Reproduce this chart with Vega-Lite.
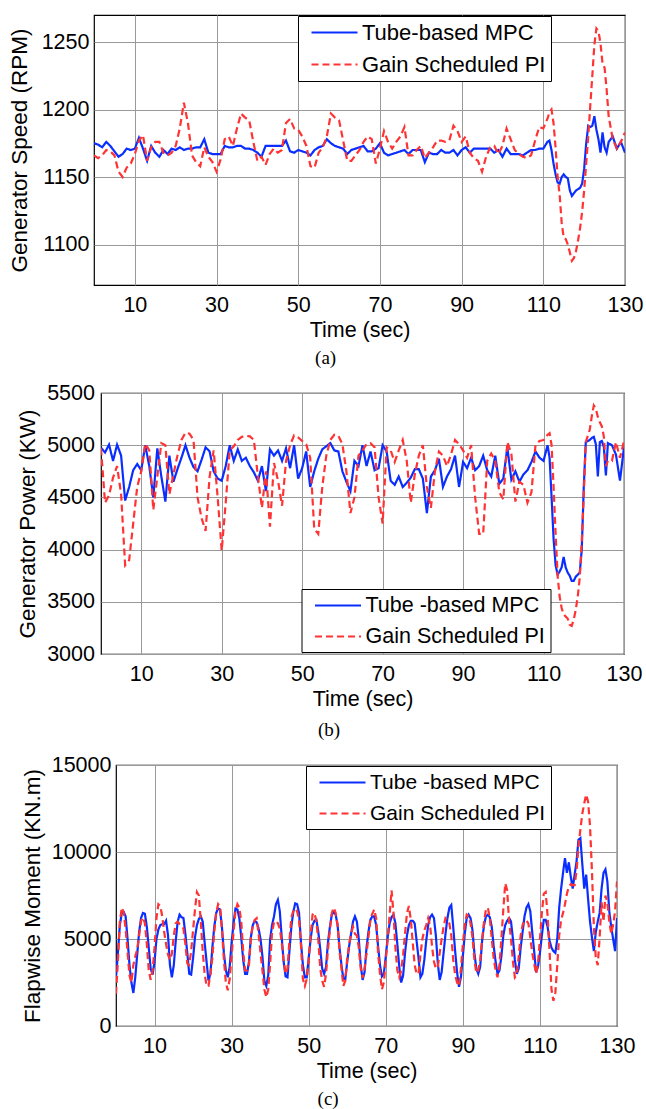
{
"$schema": "https://vega.github.io/schema/vega-lite/v6.json",
"padding": {"left": 5, "top": 14, "right": 0, "bottom": 0},
"background": "white",
"spacing": 12,
"config": {
 "view": {"stroke": "black", "strokeWidth": 1.2},
 "font": "Liberation Sans",
 "title": {"font": "Liberation Serif", "fontSize": 19, "fontWeight": "normal", "color": "black"},
 "style": {"group-title": {"font": "Liberation Serif", "fontSize": 19, "fontWeight": "normal", "fill": "black"}},
 "axis": {"labelFont": "Liberation Sans", "labelFontSize": 21.5, "labelColor": "black", "titleFont": "Liberation Sans", "titleFontSize": 21.5, "titleFontWeight": "normal", "titleColor": "black", "domain": false, "ticks": false, "tickSize": 0, "grid": true, "gridColor": "#999999", "gridWidth": 1, "labelFlush": false, "labelOverlap": false},
 "axisX": {"labelPadding": 9, "titlePadding": 4},
 "axisY": {"titleFontSize": 22.5},
 "legend": {"orient": "none", "symbolType": "M-2.3,0H2.3", "symbolSize": 400, "symbolStrokeWidth": 2.2, "symbolOffset": 20, "labelOffset": 16, "rowPadding": 9, "padding": 5, "labelFont": "Liberation Sans", "labelFontSize": 22, "labelColor": "black", "strokeColor": "black", "fillColor": "white", "labelLimit": 400}
},
"datasets": {
"p1": [
{"t":0,"mpc":1175,"pi":1166},{"t":1,"mpc":1174,"pi":1164},{"t":2,"mpc":1172,"pi":1166},{"t":3,"mpc":1176,"pi":1170},{"t":4,"mpc":1173,"pi":1169},{"t":5,"mpc":1169,"pi":1166},{"t":6,"mpc":1165,"pi":1154},{"t":7,"mpc":1167,"pi":1150},{"t":8,"mpc":1171,"pi":1157},{"t":9,"mpc":1170,"pi":1160},{"t":10,"mpc":1171,"pi":1167},{"t":11,"mpc":1179,"pi":1177},{"t":12,"mpc":1171,"pi":1181},{"t":13,"mpc":1162,"pi":1162},{"t":14,"mpc":1173,"pi":1172},{"t":15,"mpc":1168,"pi":1176},{"t":16,"mpc":1165,"pi":1176},{"t":17,"mpc":1170,"pi":1168},{"t":18,"mpc":1167,"pi":1166},{"t":19,"mpc":1171,"pi":1168},{"t":20,"mpc":1170,"pi":1173},{"t":21,"mpc":1172,"pi":1186},{"t":22,"mpc":1170,"pi":1205},{"t":23,"mpc":1171,"pi":1190},{"t":24,"mpc":1171,"pi":1166},{"t":25,"mpc":1172,"pi":1161},{"t":26,"mpc":1172,"pi":1158},{"t":27,"mpc":1178,"pi":1172},{"t":28,"mpc":1168,"pi":1165},{"t":29,"mpc":1167,"pi":1161},{"t":30,"mpc":1167,"pi":1154},{"t":31,"mpc":1167,"pi":1163},{"t":32,"mpc":1173,"pi":1178},{"t":33,"mpc":1172,"pi":1180},{"t":34,"mpc":1172,"pi":1173},{"t":35,"mpc":1173,"pi":1186},{"t":36,"mpc":1173,"pi":1197},{"t":37,"mpc":1171,"pi":1194},{"t":38,"mpc":1171,"pi":1192},{"t":39,"mpc":1170,"pi":1176},{"t":40,"mpc":1168,"pi":1162},{"t":41,"mpc":1165,"pi":1165},{"t":42,"mpc":1173,"pi":1159},{"t":43,"mpc":1173,"pi":1167},{"t":44,"mpc":1173,"pi":1171},{"t":45,"mpc":1173,"pi":1168},{"t":46,"mpc":1173,"pi":1170},{"t":47,"mpc":1177,"pi":1190},{"t":48,"mpc":1169,"pi":1193},{"t":49,"mpc":1168,"pi":1186},{"t":50,"mpc":1170,"pi":1185},{"t":51,"mpc":1169,"pi":1180},{"t":52,"mpc":1168,"pi":1173},{"t":53,"mpc":1166,"pi":1158},{"t":54,"mpc":1170,"pi":1157},{"t":55,"mpc":1172,"pi":1168},{"t":56,"mpc":1173,"pi":1172},{"t":57,"mpc":1178,"pi":1180},{"t":58,"mpc":1175,"pi":1197},{"t":59,"mpc":1173,"pi":1194},{"t":60,"mpc":1172,"pi":1192},{"t":61,"mpc":1171,"pi":1177},{"t":62,"mpc":1167,"pi":1162},{"t":63,"mpc":1170,"pi":1162},{"t":64,"mpc":1171,"pi":1166},{"t":65,"mpc":1172,"pi":1170},{"t":66,"mpc":1173,"pi":1176},{"t":67,"mpc":1169,"pi":1180},{"t":68,"mpc":1169,"pi":1178},{"t":69,"mpc":1171,"pi":1160},{"t":70,"mpc":1175,"pi":1171},{"t":71,"mpc":1168,"pi":1184},{"t":72,"mpc":1166,"pi":1176},{"t":73,"mpc":1167,"pi":1171},{"t":74,"mpc":1168,"pi":1176},{"t":75,"mpc":1169,"pi":1180},{"t":76,"mpc":1170,"pi":1187},{"t":77,"mpc":1167,"pi":1166},{"t":78,"mpc":1170,"pi":1166},{"t":79,"mpc":1170,"pi":1170},{"t":80,"mpc":1170,"pi":1173},{"t":81,"mpc":1161,"pi":1164},{"t":82,"mpc":1168,"pi":1168},{"t":83,"mpc":1167,"pi":1172},{"t":84,"mpc":1167,"pi":1177},{"t":85,"mpc":1170,"pi":1177},{"t":86,"mpc":1168,"pi":1176},{"t":87,"mpc":1168,"pi":1177},{"t":88,"mpc":1170,"pi":1188},{"t":89,"mpc":1166,"pi":1184},{"t":90,"mpc":1170,"pi":1176},{"t":91,"mpc":1172,"pi":1180},{"t":92,"mpc":1168,"pi":1168},{"t":93,"mpc":1171,"pi":1164},{"t":94,"mpc":1171,"pi":1162},{"t":95,"mpc":1171,"pi":1154},{"t":96,"mpc":1171,"pi":1165},{"t":97,"mpc":1171,"pi":1172},{"t":98,"mpc":1168,"pi":1173},{"t":99,"mpc":1170,"pi":1167},{"t":100,"mpc":1165,"pi":1173},{"t":101,"mpc":1171,"pi":1186},{"t":102,"mpc":1167,"pi":1178},{"t":103,"mpc":1167,"pi":1170},{"t":104,"mpc":1167,"pi":1167},{"t":105,"mpc":1166,"pi":1165},{"t":106,"mpc":1168,"pi":1164},{"t":107,"mpc":1170,"pi":1166},{"t":108,"mpc":1170,"pi":1177},{"t":109,"mpc":1171,"pi":1187},{"t":110,"mpc":1171,"pi":1186},{"t":111,"mpc":1176,"pi":1193},{"t":111.5,"mpc":1177,"pi":1198},{"t":112,"mpc":1170,"pi":1200},{"t":112.5,"mpc":1160,"pi":1190},{"t":113,"mpc":1152,"pi":1172},{"t":113.5,"mpc":1146,"pi":1150},{"t":114,"mpc":1145,"pi":1137},{"t":114.5,"mpc":1150,"pi":1116},{"t":115,"mpc":1152,"pi":1105},{"t":115.5,"mpc":1150,"pi":1104},{"t":116,"mpc":1149,"pi":1100},{"t":116.5,"mpc":1140,"pi":1094},{"t":117,"mpc":1136,"pi":1088},{"t":117.5,"mpc":1138,"pi":1090},{"t":118,"mpc":1140,"pi":1095},{"t":118.5,"mpc":1141,"pi":1103},{"t":119,"mpc":1142,"pi":1112},{"t":119.5,"mpc":1145,"pi":1124},{"t":120,"mpc":1156,"pi":1140},{"t":120.5,"mpc":1175,"pi":1160},{"t":121,"mpc":1188,"pi":1180},{"t":121.5,"mpc":1187,"pi":1203},{"t":122,"mpc":1188,"pi":1225},{"t":122.5,"mpc":1195,"pi":1248},{"t":123,"mpc":1185,"pi":1260},{"t":123.5,"mpc":1178,"pi":1258},{"t":124,"mpc":1168,"pi":1249},{"t":124.5,"mpc":1183,"pi":1234},{"t":125,"mpc":1172,"pi":1231},{"t":125.5,"mpc":1168,"pi":1215},{"t":126,"mpc":1176,"pi":1195},{"t":127,"mpc":1180,"pi":1178},{"t":128,"mpc":1171,"pi":1171},{"t":129,"mpc":1176,"pi":1176},{"t":130,"mpc":1168,"pi":1183}
],
"p2": [
{"t":0,"mpc":4975,"pi":4970},{"t":1,"mpc":4930,"pi":4450},{"t":2,"mpc":5005,"pi":4520},{"t":3,"mpc":4850,"pi":4690},{"t":4,"mpc":5005,"pi":4800},{"t":5,"mpc":4900,"pi":4530},{"t":6,"mpc":4470,"pi":3850},{"t":7,"mpc":4600,"pi":3900},{"t":8,"mpc":4760,"pi":4250},{"t":9,"mpc":4820,"pi":4600},{"t":10,"mpc":4760,"pi":4750},{"t":11,"mpc":5000,"pi":5015},{"t":12,"mpc":4800,"pi":4950},{"t":13,"mpc":4500,"pi":4380},{"t":14,"mpc":4970,"pi":4700},{"t":15,"mpc":4700,"pi":5020},{"t":16,"mpc":4460,"pi":5000},{"t":17,"mpc":4900,"pi":4530},{"t":18,"mpc":4650,"pi":4720},{"t":19,"mpc":4770,"pi":4900},{"t":20,"mpc":4880,"pi":5050},{"t":21,"mpc":5000,"pi":5120},{"t":22,"mpc":4880,"pi":5110},{"t":23,"mpc":4790,"pi":5050},{"t":24,"mpc":4750,"pi":4500},{"t":25,"mpc":4860,"pi":4300},{"t":26,"mpc":4980,"pi":4180},{"t":27,"mpc":4940,"pi":4700},{"t":28,"mpc":4750,"pi":4950},{"t":29,"mpc":4680,"pi":4500},{"t":30,"mpc":4660,"pi":3990},{"t":31,"mpc":4800,"pi":4450},{"t":32,"mpc":5000,"pi":4950},{"t":33,"mpc":4850,"pi":4990},{"t":34,"mpc":4960,"pi":5050},{"t":35,"mpc":4850,"pi":5080},{"t":36,"mpc":4880,"pi":5090},{"t":37,"mpc":4800,"pi":5085},{"t":38,"mpc":4740,"pi":5050},{"t":39,"mpc":4660,"pi":4700},{"t":40,"mpc":4800,"pi":4400},{"t":41,"mpc":4560,"pi":4750},{"t":42,"mpc":4960,"pi":4220},{"t":43,"mpc":4900,"pi":4830},{"t":44,"mpc":4950,"pi":4660},{"t":45,"mpc":4850,"pi":4420},{"t":46,"mpc":4970,"pi":4850},{"t":47,"mpc":4780,"pi":5000},{"t":48,"mpc":5000,"pi":5095},{"t":49,"mpc":4680,"pi":5075},{"t":50,"mpc":4780,"pi":5040},{"t":51,"mpc":4940,"pi":5010},{"t":52,"mpc":4600,"pi":4880},{"t":53,"mpc":4750,"pi":4200},{"t":54,"mpc":4870,"pi":4150},{"t":55,"mpc":4960,"pi":4600},{"t":56,"mpc":4990,"pi":4900},{"t":57,"mpc":5020,"pi":5050},{"t":58,"mpc":4950,"pi":5100},{"t":59,"mpc":4940,"pi":5090},{"t":60,"mpc":4750,"pi":5010},{"t":61,"mpc":4650,"pi":4750},{"t":62,"mpc":4560,"pi":4350},{"t":63,"mpc":4850,"pi":4500},{"t":64,"mpc":4800,"pi":4900},{"t":65,"mpc":5000,"pi":4950},{"t":66,"mpc":4800,"pi":5010},{"t":67,"mpc":4940,"pi":5020},{"t":68,"mpc":4760,"pi":4980},{"t":69,"mpc":4780,"pi":4500},{"t":70,"mpc":5000,"pi":4250},{"t":71,"mpc":4940,"pi":4980},{"t":72,"mpc":4660,"pi":4950},{"t":73,"mpc":4620,"pi":4840},{"t":74,"mpc":4700,"pi":4950},{"t":75,"mpc":4600,"pi":5050},{"t":76,"mpc":4640,"pi":4850},{"t":77,"mpc":4690,"pi":4450},{"t":78,"mpc":4770,"pi":4720},{"t":79,"mpc":4770,"pi":4900},{"t":80,"mpc":4680,"pi":5000},{"t":81,"mpc":4350,"pi":4600},{"t":82,"mpc":4700,"pi":4400},{"t":83,"mpc":4760,"pi":4750},{"t":84,"mpc":4870,"pi":4940},{"t":85,"mpc":4600,"pi":4900},{"t":86,"mpc":4700,"pi":4800},{"t":87,"mpc":4770,"pi":4910},{"t":88,"mpc":4900,"pi":5050},{"t":89,"mpc":4600,"pi":5010},{"t":90,"mpc":4840,"pi":4950},{"t":91,"mpc":4780,"pi":4880},{"t":92,"mpc":4880,"pi":5000},{"t":93,"mpc":4760,"pi":4500},{"t":94,"mpc":4800,"pi":4150},{"t":95,"mpc":4900,"pi":4150},{"t":96,"mpc":4760,"pi":4850},{"t":97,"mpc":4700,"pi":4920},{"t":98,"mpc":4900,"pi":4850},{"t":99,"mpc":4630,"pi":4550},{"t":100,"mpc":4680,"pi":4480},{"t":101,"mpc":4980,"pi":5030},{"t":102,"mpc":4670,"pi":4920},{"t":103,"mpc":4750,"pi":4460},{"t":104,"mpc":4650,"pi":4650},{"t":105,"mpc":4720,"pi":4620},{"t":106,"mpc":4760,"pi":4450},{"t":107,"mpc":4840,"pi":4550},{"t":108,"mpc":4940,"pi":5000},{"t":109,"mpc":4880,"pi":5040},{"t":110,"mpc":4850,"pi":5050},{"t":111,"mpc":5000,"pi":5100},{"t":111.5,"mpc":4880,"pi":5115},{"t":112,"mpc":4500,"pi":5000},{"t":112.5,"mpc":4100,"pi":4600},{"t":113,"mpc":3850,"pi":4150},{"t":113.5,"mpc":3760,"pi":3750},{"t":114,"mpc":3790,"pi":3550},{"t":114.5,"mpc":3830,"pi":3440},{"t":115,"mpc":3930,"pi":3380},{"t":115.5,"mpc":3830,"pi":3360},{"t":116,"mpc":3780,"pi":3340},{"t":116.5,"mpc":3750,"pi":3280},{"t":117,"mpc":3700,"pi":3270},{"t":117.5,"mpc":3700,"pi":3330},{"t":118,"mpc":3740,"pi":3420},{"t":118.5,"mpc":3760,"pi":3550},{"t":119,"mpc":3780,"pi":3730},{"t":119.5,"mpc":4000,"pi":4080},{"t":120,"mpc":4600,"pi":4520},{"t":120.5,"mpc":5030,"pi":5030},{"t":121,"mpc":5040,"pi":5090},{"t":121.5,"mpc":5050,"pi":5150},{"t":122,"mpc":5070,"pi":5280},{"t":122.5,"mpc":5080,"pi":5380},{"t":123,"mpc":5010,"pi":5350},{"t":123.5,"mpc":4700,"pi":5270},{"t":124,"mpc":5030,"pi":5220},{"t":124.5,"mpc":5040,"pi":5180},{"t":125,"mpc":4980,"pi":5080},{"t":125.5,"mpc":4710,"pi":4800},{"t":126,"mpc":5020,"pi":4850},{"t":127,"mpc":5000,"pi":4850},{"t":128,"mpc":4910,"pi":5030},{"t":129,"mpc":4660,"pi":4880},{"t":130,"mpc":4980,"pi":5040}
],
"p3": [
{"t":0,"mpc":2800,"pi":1850},{"t":0.5,"mpc":4200,"pi":3750},{"t":1,"mpc":5800,"pi":6000},{"t":1.5,"mpc":6500,"pi":6800},{"t":2,"mpc":6550,"pi":6500},{"t":2.5,"mpc":6300,"pi":5600},{"t":3,"mpc":5000,"pi":4200},{"t":3.5,"mpc":3500,"pi":2900},{"t":4,"mpc":2500,"pi":2500},{"t":4.5,"mpc":1900,"pi":3500},{"t":5,"mpc":2800,"pi":4000},{"t":5.5,"mpc":4100,"pi":4400},{"t":6,"mpc":5400,"pi":5200},{"t":6.5,"mpc":6200,"pi":6050},{"t":7,"mpc":6500,"pi":6250},{"t":7.5,"mpc":6450,"pi":5900},{"t":8,"mpc":5700,"pi":4700},{"t":8.5,"mpc":4500,"pi":3200},{"t":9,"mpc":3300,"pi":2650},{"t":9.5,"mpc":2950,"pi":3200},{"t":10,"mpc":3700,"pi":4500},{"t":10.5,"mpc":5000,"pi":6200},{"t":11,"mpc":5550,"pi":7000},{"t":11.5,"mpc":5800,"pi":6900},{"t":12,"mpc":5850,"pi":6300},{"t":12.5,"mpc":5850,"pi":5400},{"t":13,"mpc":6050,"pi":4700},{"t":13.5,"mpc":5200,"pi":4100},{"t":14,"mpc":3500,"pi":3800},{"t":14.5,"mpc":2800,"pi":4150},{"t":15,"mpc":3500,"pi":5200},{"t":15.5,"mpc":4900,"pi":5900},{"t":16,"mpc":6000,"pi":6000},{"t":16.5,"mpc":6400,"pi":5850},{"t":17,"mpc":6250,"pi":5750},{"t":17.5,"mpc":6200,"pi":5600},{"t":18,"mpc":5300,"pi":4700},{"t":18.5,"mpc":4200,"pi":3600},{"t":19,"mpc":3000,"pi":3500},{"t":19.5,"mpc":2950,"pi":4300},{"t":20,"mpc":3900,"pi":5500},{"t":20.5,"mpc":5100,"pi":6700},{"t":21,"mpc":5800,"pi":7700},{"t":21.5,"mpc":6150,"pi":7500},{"t":22,"mpc":6300,"pi":6000},{"t":22.5,"mpc":6000,"pi":4300},{"t":23,"mpc":4800,"pi":3000},{"t":23.5,"mpc":3700,"pi":2300},{"t":24,"mpc":2600,"pi":2300},{"t":24.5,"mpc":3000,"pi":3000},{"t":25,"mpc":4500,"pi":3900},{"t":25.5,"mpc":5700,"pi":5400},{"t":26,"mpc":6500,"pi":6500},{"t":26.5,"mpc":6750,"pi":7000},{"t":27,"mpc":6700,"pi":6850},{"t":27.5,"mpc":5650,"pi":5500},{"t":28,"mpc":4200,"pi":3800},{"t":28.5,"mpc":3200,"pi":2500},{"t":29,"mpc":2800,"pi":2050},{"t":29.5,"mpc":3400,"pi":2700},{"t":30,"mpc":4800,"pi":4000},{"t":30.5,"mpc":5900,"pi":5400},{"t":31,"mpc":6750,"pi":6600},{"t":31.5,"mpc":6700,"pi":7000},{"t":32,"mpc":6200,"pi":6800},{"t":32.5,"mpc":5100,"pi":6000},{"t":33,"mpc":3800,"pi":4300},{"t":33.5,"mpc":3000,"pi":3200},{"t":34,"mpc":3000,"pi":3200},{"t":34.5,"mpc":3700,"pi":3500},{"t":35,"mpc":5100,"pi":5100},{"t":35.5,"mpc":5800,"pi":5800},{"t":36,"mpc":6050,"pi":6100},{"t":36.5,"mpc":5950,"pi":6200},{"t":37,"mpc":5600,"pi":5300},{"t":37.5,"mpc":5000,"pi":4200},{"t":38,"mpc":4000,"pi":3200},{"t":38.5,"mpc":2600,"pi":2100},{"t":39,"mpc":2300,"pi":1650},{"t":39.5,"mpc":2900,"pi":2100},{"t":40,"mpc":5000,"pi":3600},{"t":40.5,"mpc":5800,"pi":5400},{"t":41,"mpc":6300,"pi":5950},{"t":41.5,"mpc":7000,"pi":6050},{"t":42,"mpc":7250,"pi":5900},{"t":42.5,"mpc":6600,"pi":5600},{"t":43,"mpc":5100,"pi":4800},{"t":43.5,"mpc":3700,"pi":3750},{"t":44,"mpc":2850,"pi":3000},{"t":44.5,"mpc":2800,"pi":3300},{"t":45,"mpc":4300,"pi":4900},{"t":45.5,"mpc":5700,"pi":6250},{"t":46,"mpc":6550,"pi":6600},{"t":46.5,"mpc":7050,"pi":6750},{"t":47,"mpc":7000,"pi":6600},{"t":47.5,"mpc":6500,"pi":6100},{"t":48,"mpc":4800,"pi":4600},{"t":48.5,"mpc":3500,"pi":2700},{"t":49,"mpc":2800,"pi":2300},{"t":49.5,"mpc":2800,"pi":2700},{"t":50,"mpc":3900,"pi":3800},{"t":50.5,"mpc":5000,"pi":5200},{"t":51,"mpc":5800,"pi":6400},{"t":51.5,"mpc":6050,"pi":6500},{"t":52,"mpc":6100,"pi":6000},{"t":52.5,"mpc":5400,"pi":4900},{"t":53,"mpc":4400,"pi":3300},{"t":53.5,"mpc":3300,"pi":2600},{"t":54,"mpc":3000,"pi":2250},{"t":54.5,"mpc":3400,"pi":3000},{"t":55,"mpc":4800,"pi":4400},{"t":55.5,"mpc":5700,"pi":5500},{"t":56,"mpc":6400,"pi":6500},{"t":56.5,"mpc":6550,"pi":6800},{"t":57,"mpc":6400,"pi":6500},{"t":57.5,"mpc":5800,"pi":5800},{"t":58,"mpc":4500,"pi":4300},{"t":58.5,"mpc":3500,"pi":3300},{"t":59,"mpc":2700,"pi":2300},{"t":59.5,"mpc":2700,"pi":2600},{"t":60,"mpc":3700,"pi":3900},{"t":60.5,"mpc":4600,"pi":4700},{"t":61,"mpc":5300,"pi":5300},{"t":61.5,"mpc":6000,"pi":5700},{"t":62,"mpc":6300,"pi":5300},{"t":62.5,"mpc":6000,"pi":5200},{"t":63,"mpc":5000,"pi":4500},{"t":63.5,"mpc":3500,"pi":3300},{"t":64,"mpc":2650,"pi":2750},{"t":64.5,"mpc":3100,"pi":3300},{"t":65,"mpc":4500,"pi":4150},{"t":65.5,"mpc":5400,"pi":5100},{"t":66,"mpc":6100,"pi":6100},{"t":66.5,"mpc":6300,"pi":6450},{"t":67,"mpc":6300,"pi":6700},{"t":67.5,"mpc":5800,"pi":6200},{"t":68,"mpc":4600,"pi":4200},{"t":68.5,"mpc":3500,"pi":3000},{"t":69,"mpc":2850,"pi":2100},{"t":69.5,"mpc":3000,"pi":2500},{"t":70,"mpc":4000,"pi":3800},{"t":70.5,"mpc":5100,"pi":5000},{"t":71,"mpc":5900,"pi":6400},{"t":71.5,"mpc":6250,"pi":7800},{"t":72,"mpc":6400,"pi":6500},{"t":72.5,"mpc":5900,"pi":4500},{"t":73,"mpc":4700,"pi":3200},{"t":73.5,"mpc":3400,"pi":2800},{"t":74,"mpc":2500,"pi":3200},{"t":74.5,"mpc":2900,"pi":4100},{"t":75,"mpc":4200,"pi":5300},{"t":75.5,"mpc":5200,"pi":6500},{"t":76,"mpc":5800,"pi":6900},{"t":76.5,"mpc":6050,"pi":6100},{"t":77,"mpc":6050,"pi":4800},{"t":77.5,"mpc":5900,"pi":3500},{"t":78,"mpc":4900,"pi":3000},{"t":78.5,"mpc":3900,"pi":3000},{"t":79,"mpc":2800,"pi":4100},{"t":79.5,"mpc":3000,"pi":5000},{"t":80,"mpc":3800,"pi":5500},{"t":80.5,"mpc":4900,"pi":5800},{"t":81,"mpc":5800,"pi":6200},{"t":81.5,"mpc":6250,"pi":5800},{"t":82,"mpc":6400,"pi":4600},{"t":82.5,"mpc":6200,"pi":3700},{"t":83,"mpc":5200,"pi":3300},{"t":83.5,"mpc":3600,"pi":3400},{"t":84,"mpc":2650,"pi":4200},{"t":84.5,"mpc":3100,"pi":5000},{"t":85,"mpc":4200,"pi":5700},{"t":85.5,"mpc":5300,"pi":6200},{"t":86,"mpc":6200,"pi":6100},{"t":86.5,"mpc":6800,"pi":5900},{"t":87,"mpc":6950,"pi":5200},{"t":87.5,"mpc":5700,"pi":3800},{"t":88,"mpc":4300,"pi":2950},{"t":88.5,"mpc":3100,"pi":2500},{"t":89,"mpc":2250,"pi":2300},{"t":89.5,"mpc":2800,"pi":3300},{"t":90,"mpc":4000,"pi":4700},{"t":90.5,"mpc":5300,"pi":5800},{"t":91,"mpc":6200,"pi":6400},{"t":91.5,"mpc":6400,"pi":6300},{"t":92,"mpc":6200,"pi":5900},{"t":92.5,"mpc":5500,"pi":5100},{"t":93,"mpc":4200,"pi":3800},{"t":93.5,"mpc":3300,"pi":3050},{"t":94,"mpc":3000,"pi":3200},{"t":94.5,"mpc":3400,"pi":3800},{"t":95,"mpc":4900,"pi":5000},{"t":95.5,"mpc":5800,"pi":6000},{"t":96,"mpc":6300,"pi":6700},{"t":96.5,"mpc":6400,"pi":6800},{"t":97,"mpc":6250,"pi":6200},{"t":97.5,"mpc":5700,"pi":5000},{"t":98,"mpc":4600,"pi":3900},{"t":98.5,"mpc":3700,"pi":3200},{"t":99,"mpc":3000,"pi":2800},{"t":99.5,"mpc":3200,"pi":3500},{"t":100,"mpc":4000,"pi":5000},{"t":100.5,"mpc":5200,"pi":6700},{"t":101,"mpc":5800,"pi":8200},{"t":101.5,"mpc":6050,"pi":7800},{"t":102,"mpc":6200,"pi":6000},{"t":102.5,"mpc":6000,"pi":5000},{"t":103,"mpc":5000,"pi":3700},{"t":103.5,"mpc":3800,"pi":2800},{"t":104,"mpc":3000,"pi":2950},{"t":104.5,"mpc":3300,"pi":4000},{"t":105,"mpc":4500,"pi":5200},{"t":105.5,"mpc":5400,"pi":5800},{"t":106,"mpc":6300,"pi":6050},{"t":106.5,"mpc":6800,"pi":6050},{"t":107,"mpc":7000,"pi":5900},{"t":107.5,"mpc":6600,"pi":5100},{"t":108,"mpc":5400,"pi":4200},{"t":108.5,"mpc":4300,"pi":3600},{"t":109,"mpc":3100,"pi":3000},{"t":109.5,"mpc":3400,"pi":3600},{"t":110,"mpc":4200,"pi":5000},{"t":110.5,"mpc":5200,"pi":6500},{"t":111,"mpc":6100,"pi":7600},{"t":111.5,"mpc":6100,"pi":7700},{"t":112,"mpc":5700,"pi":6300},{"t":112.5,"mpc":4900,"pi":4300},{"t":113,"mpc":4500,"pi":2100},{"t":113.5,"mpc":4300,"pi":1450},{"t":114,"mpc":4200,"pi":1900},{"t":114.5,"mpc":5000,"pi":3500},{"t":115,"mpc":6800,"pi":5200},{"t":115.5,"mpc":7900,"pi":6100},{"t":116,"mpc":8800,"pi":6500},{"t":116.5,"mpc":9650,"pi":7000},{"t":117,"mpc":8800,"pi":7600},{"t":117.5,"mpc":9400,"pi":8000},{"t":118,"mpc":8600,"pi":8150},{"t":118.5,"mpc":7900,"pi":8100},{"t":119,"mpc":8700,"pi":8100},{"t":119.5,"mpc":9450,"pi":8900},{"t":120,"mpc":10700,"pi":10300},{"t":120.5,"mpc":10800,"pi":11300},{"t":121,"mpc":9300,"pi":12200},{"t":121.5,"mpc":7900,"pi":12800},{"t":122,"mpc":8700,"pi":13300},{"t":122.5,"mpc":7300,"pi":12900},{"t":123,"mpc":6000,"pi":11500},{"t":123.5,"mpc":5100,"pi":8900},{"t":124,"mpc":4300,"pi":5700},{"t":124.5,"mpc":5400,"pi":3900},{"t":125,"mpc":6000,"pi":3500},{"t":125.5,"mpc":6500,"pi":5100},{"t":126,"mpc":7900,"pi":7100},{"t":126.5,"mpc":8800,"pi":6000},{"t":127,"mpc":9000,"pi":7500},{"t":127.5,"mpc":8300,"pi":7100},{"t":128,"mpc":6600,"pi":6000},{"t":128.5,"mpc":5700,"pi":5300},{"t":129,"mpc":5000,"pi":5800},{"t":129.5,"mpc":4300,"pi":6600},{"t":130,"mpc":6200,"pi":8300}
]
},
"resolve": {"scale": {"x": "independent", "y": "independent", "color": "independent", "strokeDash": "independent"}, "legend": {"color": "independent", "strokeDash": "independent"}},
"vconcat": [
{"hconcat": [
 {"width": 1.9, "height": 1, "data": {"values": []}, "mark": "point", "view": {"stroke": null}},
 {"width": 531, "height": 270,
  "data": {"name": "p1"},
  "transform": [{"fold": ["mpc", "pi"], "as": ["series", "value"]}],
  "title": {"text": "(a)", "orient": "bottom", "anchor": "middle", "frame": "bounds", "font": "Liberation Serif", "fontSize": 19, "fontWeight": "normal", "offset": 8, "color": "black"},
  "mark": {"type": "line", "strokeWidth": 2.2, "clip": true},
  "encoding": {
   "x": {"field": "t", "type": "quantitative", "scale": {"domain": [0, 130], "nice": false, "zero": false}, "axis": {"title": "Time (sec)", "values": [10, 30, 50, 70, 90, 110, 130], "format": "d"}},
   "y": {"field": "value", "type": "quantitative", "scale": {"domain": [1070, 1270], "nice": false, "zero": false}, "axis": {"title": "Generator Speed (RPM)", "values": [1100, 1150, 1200, 1250], "format": "d", "titlePadding": 9.8, "labelPadding": 5}},
   "color": {"field": "series", "type": "nominal", "scale": {"domain": ["mpc", "pi"], "range": ["#0a2eff", "#ff3333"]}, "legend": {"title": null, "legendX": 204, "legendY": 1, "labelFontSize": 22, "labelExpr": "datum.label == 'mpc' ? 'Tube-based MPC' : 'Gain Scheduled PI'"}},
   "strokeDash": {"field": "series", "type": "nominal", "scale": {"domain": ["mpc", "pi"], "range": [[1, 0], [7, 4]]}, "legend": {"title": null, "legendX": 204, "legendY": 1, "labelFontSize": 22, "labelExpr": "datum.label == 'mpc' ? 'Tube-based MPC' : 'Gain Scheduled PI'"}}
  }
 }
], "spacing": 0, "resolve": {"scale": {"color": "independent", "strokeDash": "independent"}, "legend": {"color": "independent", "strokeDash": "independent"}}},
{"hconcat": [
 {"width": 9.3, "height": 1, "data": {"values": []}, "mark": "point", "view": {"stroke": null}},
 {"width": 523, "height": 261,
  "data": {"name": "p2"},
  "transform": [{"fold": ["mpc", "pi"], "as": ["series", "value"]}],
  "title": {"text": "(b)", "orient": "bottom", "anchor": "middle", "frame": "bounds", "font": "Liberation Serif", "fontSize": 19, "fontWeight": "normal", "offset": 11, "color": "black"},
  "mark": {"type": "line", "strokeWidth": 2.2, "clip": true},
  "encoding": {
   "x": {"field": "t", "type": "quantitative", "scale": {"domain": [0, 130], "nice": false, "zero": false}, "axis": {"title": "Time (sec)", "values": [10, 30, 50, 70, 90, 110, 130], "format": "d"}},
   "y": {"field": "value", "type": "quantitative", "scale": {"domain": [3000, 5500], "nice": false, "zero": false}, "axis": {"title": "Generator Power (KW)", "values": [3000, 3500, 4000, 4500, 5000, 5500], "format": "d", "titlePadding": 7.4, "labelPadding": 6.5}},
   "color": {"field": "series", "type": "nominal", "scale": {"domain": ["mpc", "pi"], "range": ["#0a2eff", "#ff3333"]}, "legend": {"title": null, "legendX": 200.5, "legendY": 196, "labelFontSize": 21.5, "labelExpr": "datum.label == 'mpc' ? 'Tube -based MPC' : 'Gain Scheduled PI'"}},
   "strokeDash": {"field": "series", "type": "nominal", "scale": {"domain": ["mpc", "pi"], "range": [[1, 0], [7, 4]]}, "legend": {"title": null, "legendX": 200.5, "legendY": 196, "labelFontSize": 21.5, "labelExpr": "datum.label == 'mpc' ? 'Tube -based MPC' : 'Gain Scheduled PI'"}}
  }
 }
], "spacing": 0, "resolve": {"scale": {"color": "independent", "strokeDash": "independent"}, "legend": {"color": "independent", "strokeDash": "independent"}}},
{"hconcat": [
 {"width": 14.8, "height": 1, "data": {"values": []}, "mark": "point", "view": {"stroke": null}},
 {"width": 501, "height": 261,
  "data": {"name": "p3"},
  "transform": [{"fold": ["mpc", "pi"], "as": ["series", "value"]}],
  "title": {"text": "(c)", "orient": "bottom", "anchor": "middle", "frame": "bounds", "font": "Liberation Serif", "fontSize": 19, "fontWeight": "normal", "offset": 8, "color": "black"},
  "mark": {"type": "line", "strokeWidth": 2.2, "clip": true},
  "encoding": {
   "x": {"field": "t", "type": "quantitative", "scale": {"domain": [0, 130], "nice": false, "zero": false}, "axis": {"title": "Time (sec)", "values": [10, 30, 50, 70, 90, 110, 130], "format": "d"}},
   "y": {"field": "value", "type": "quantitative", "scale": {"domain": [0, 15000], "nice": false, "zero": false}, "axis": {"title": "Flapwise Moment (KN.m)", "values": [0, 5000, 10000, 15000], "format": "d", "titlePadding": 6.9, "labelPadding": 5}},
   "color": {"field": "series", "type": "nominal", "scale": {"domain": ["mpc", "pi"], "range": ["#0a2eff", "#ff3333"]}, "legend": {"title": null, "legendX": 190, "legendY": 1, "labelFontSize": 21, "labelExpr": "datum.label == 'mpc' ? 'Tube -based MPC' : 'Gain Scheduled PI'"}},
   "strokeDash": {"field": "series", "type": "nominal", "scale": {"domain": ["mpc", "pi"], "range": [[1, 0], [7, 4]]}, "legend": {"title": null, "legendX": 190, "legendY": 1, "labelFontSize": 21, "labelExpr": "datum.label == 'mpc' ? 'Tube -based MPC' : 'Gain Scheduled PI'"}}
  }
 }
], "spacing": 0, "resolve": {"scale": {"color": "independent", "strokeDash": "independent"}, "legend": {"color": "independent", "strokeDash": "independent"}}}
]
}
